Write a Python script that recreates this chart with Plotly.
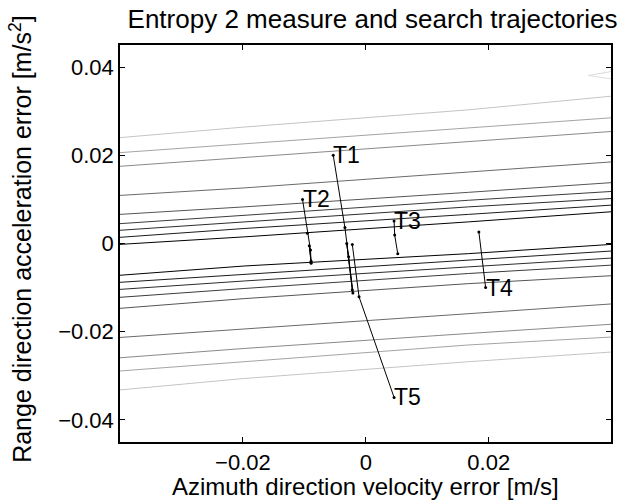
import plotly.graph_objects as go

# ---- data ----
contour_x = [-0.04, -0.0198, 0.0167, 0.04]

upper_contours_y = [
    [-0.0002, 0.0015, 0.0049, 0.0072],
    [0.0014, 0.0034, 0.0066, 0.0087],
    [0.0030, 0.0049, 0.0083, 0.0102],
    [0.0045, 0.0064, 0.0098, 0.0118],
    [0.0066, 0.0083, 0.0116, 0.0138],
    [0.0109, 0.0126, 0.0162, 0.0185],
    [0.0175, 0.0195, 0.0232, 0.0254],
    [0.0206, 0.0226, 0.0262, 0.0285],
    [0.0240, 0.0264, 0.0303, 0.0334],
]
lower_contours_y = [
    [-0.0072, -0.0051, -0.0023, -0.0002],
    [-0.0088, -0.0070, -0.0038, -0.0017],
    [-0.0104, -0.0085, -0.0053, -0.0033],
    [-0.0122, -0.0102, -0.0068, -0.0049],
    [-0.0147, -0.0125, -0.0091, -0.0073],
    [-0.0213, -0.0194, -0.0159, -0.0137],
    [-0.0259, -0.0238, -0.0204, -0.0183],
    [-0.0289, -0.0268, -0.0230, -0.0212],
    [-0.0332, -0.0306, -0.0268, -0.0246],
]
contour_colors = ["#000000", "#1c1c1c", "#2c2c2c", "#3c3c3c", "#555555",
                  "#6a6a6a", "#8a8a8a", "#a4a4a4", "#c4c4c4"]

wedge_x = [0.04, 0.0362, 0.04]
wedge_y = [0.0390, 0.0381, 0.0373]
wedge_color = "#dcdcdc"

traj_names = ["T1", "T2", "T3", "T4", "T5"]
traj_x = [
    [-0.0053, -0.0034, -0.0028, -0.0021, -0.0031, -0.0022],
    [-0.0103, -0.0095, -0.0090, -0.0089, -0.0092, -0.0089],
    [0.0046, 0.0047, 0.0052],
    [0.0195, 0.0184],
    [0.0046, -0.0011, -0.0022],
]
traj_y = [
    [0.0200, 0.0036, -0.0030, -0.0112, 0.0000, -0.0105],
    [0.0100, 0.0023, -0.0015, -0.0045, -0.0005, -0.0040],
    [0.0051, 0.0019, -0.0023],
    [-0.0100, 0.0026],
    [-0.0349, -0.0121, -0.0002],
]

x_title = "Azimuth direction velocity error [m/s]"
y_title = "Range direction acceleration error [m/s<sup>2</sup>]"
main_title = "Entropy 2 measure and search trajectories"

fig = go.Figure()

for ys, col in zip(upper_contours_y, contour_colors):
    fig.add_trace(go.Scatter(x=contour_x, y=ys, mode="lines",
                             line=dict(color=col, width=1), hoverinfo="skip"))
for ys, col in zip(lower_contours_y, contour_colors):
    fig.add_trace(go.Scatter(x=contour_x, y=ys, mode="lines",
                             line=dict(color=col, width=1), hoverinfo="skip"))
fig.add_trace(go.Scatter(x=wedge_x, y=wedge_y, mode="lines",
                         line=dict(color=wedge_color, width=1), hoverinfo="skip"))

for name, xs, ys in zip(traj_names, traj_x, traj_y):
    fig.add_trace(go.Scatter(x=xs, y=ys, mode="lines+markers",
                             line=dict(color="black", width=1),
                             marker=dict(color="black", size=3)))
    fig.add_annotation(x=xs[0], y=ys[0], text=name, showarrow=False,
                       xanchor="left", yanchor="middle", xshift=-2,
                       font=dict(size=23, color="black"))

fig.add_annotation(text=x_title, xref="paper", yref="paper", x=0.5, y=-0.112,
                   xanchor="center", yanchor="middle", showarrow=False,
                   font=dict(size=24, color="black"))
fig.add_annotation(text=y_title, xref="paper", yref="paper", x=-0.203, y=0.51,
                   xanchor="center", yanchor="middle", showarrow=False, textangle=-90,
                   font=dict(size=25, color="black"))

axis_common = dict(showgrid=False, zeroline=False, showline=True, linecolor="black",
                   linewidth=1.5, mirror="ticks", ticks="inside", ticklen=5,
                   tickcolor="black", tickfont=dict(size=22, color="black"))

fig.update_layout(
    width=624, height=503,
    margin=dict(l=120, r=11, t=45, b=61),
    paper_bgcolor="white", plot_bgcolor="white",
    showlegend=False,
    font=dict(family="Liberation Sans, Arial, sans-serif", size=22, color="black"),
    title=dict(text=main_title, x=0.597, xanchor="center",
               y=0.962, yanchor="middle", font=dict(size=26)),
    xaxis=dict(range=[-0.04, 0.0399], tickvals=[-0.02, 0, 0.02],
               ticktext=["\u22120.02", "0", "0.02"], **axis_common),
    yaxis=dict(range=[-0.045, 0.045], tickvals=[-0.04, -0.02, 0, 0.02, 0.04],
               ticktext=["\u22120.04", "\u22120.02", "0", "0.02", "0.04"], **axis_common),
)

fig.write_html("out.html")
